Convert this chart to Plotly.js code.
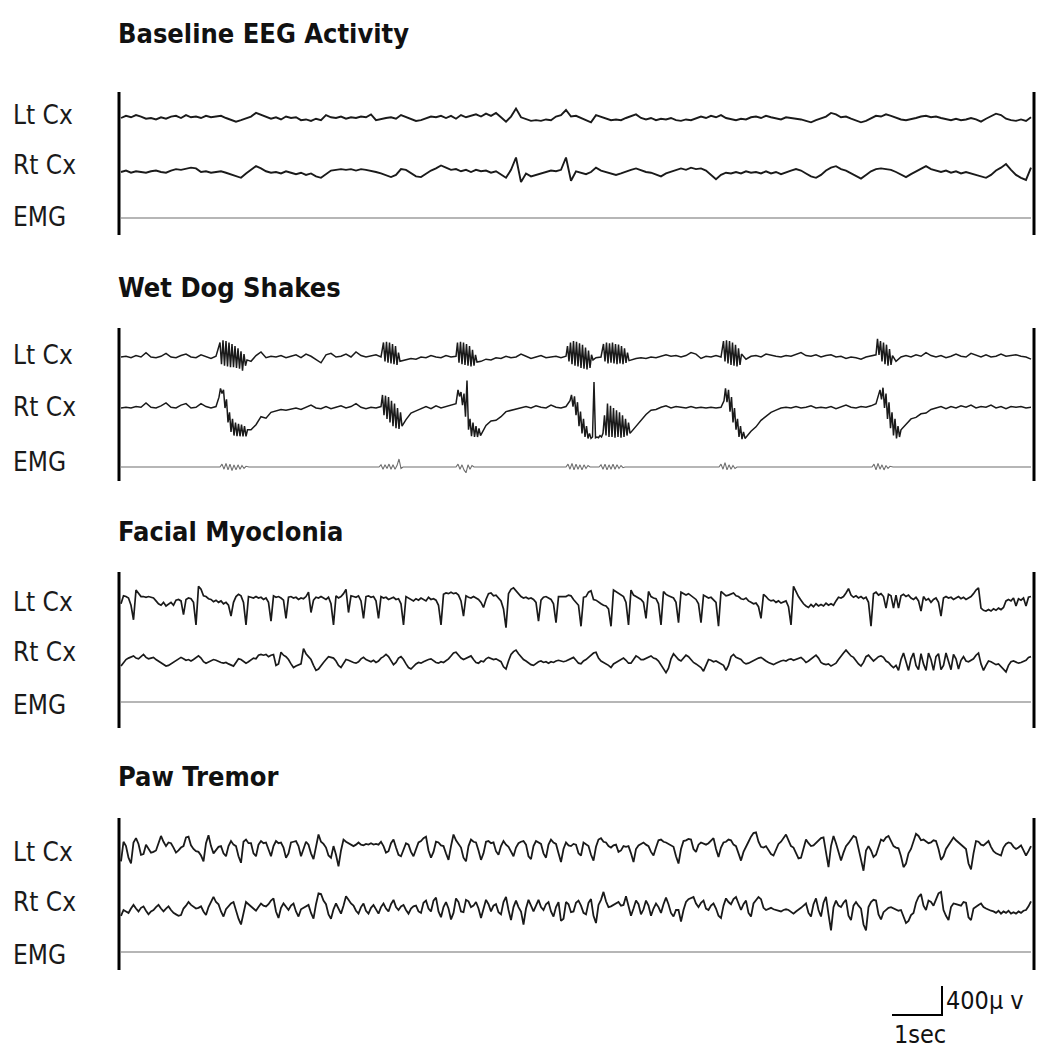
<!DOCTYPE html>
<html>
<head>
<meta charset="utf-8">
<script src="https://cdn.plot.ly/plotly-3.0.1.min.js"></script>
<style>html,body{margin:0;padding:0;background:#fff;}#chart{width:1037px;height:1050px;}</style>
</head>
<body>
<div id="chart"></div>
<script>
// ---------------- DATA (µV, positive = up; time in seconds) ----------------
const panelTitles = ['Baseline EEG Activity', 'Wet Dog Shakes', 'Facial Myoclonia', 'Paw Tremor'];
const channelLabels = ['Lt Cx', 'Rt Cx', 'EMG'];
const scaleBarSec = 1;
const scaleBarUV = 400;
const scaleTexts = ['400μ v', '1sec'];
const recordDur = 18.2;

// Baseline EEG: sampled every 0.1 s
const baseStep = 0.1;
const baseLt = [0,30,10,40,20,-10,0,-20,10,-10,20,30,0,40,10,20,0,30,10,20,30,0,-20,-50,-30,0,20,70,40,10,
-10,10,-20,20,0,10,-30,-20,-40,-10,-30,40,10,0,20,-10,10,0,20,10,50,-30,-10,0,10,-10,40,10,-20,-40,
-30,0,20,10,30,0,30,-10,40,10,30,50,20,60,30,70,10,-50,20,130,10,-20,-40,-30,-40,-20,-30,20,40,110,
20,30,0,-40,-60,40,20,0,-30,-20,-30,0,30,50,0,-20,0,-30,-10,-20,0,-30,-40,-20,-30,0,20,0,30,10,
40,0,-20,-30,-10,-20,10,20,0,30,10,0,-20,10,0,0,-20,-40,-60,-30,-10,20,70,50,10,20,-10,-30,-60,-40,
0,30,20,50,30,0,-20,-30,-20,0,20,30,10,20,0,-20,-30,-10,-30,-20,0,-20,-50,-10,30,60,40,-10,-30,-40,
-20,-40,10];
const baseRt = [0,20,-10,10,0,-10,10,20,0,-10,20,40,30,40,60,50,0,10,-10,0,10,-10,-30,-60,-80,-20,30,80,50,10,
-10,0,-20,10,-10,-30,-10,-40,-20,-60,-80,-30,20,30,40,30,40,20,40,30,20,0,-20,-40,-70,-40,40,30,-10,-60,
-70,-20,20,50,90,60,30,40,10,30,0,30,10,20,-10,10,-30,-80,30,200,-140,-20,-60,-40,-30,0,20,10,30,200,
-120,10,-10,-30,0,60,20,0,-30,-40,-20,10,30,50,20,0,-10,-40,-60,-20,0,30,50,30,60,40,50,20,-40,-100,
-40,-10,-20,0,-20,10,-10,0,-20,10,-20,0,-30,0,20,40,20,-20,-60,-80,-40,20,60,80,40,20,-20,-60,-90,-40,
10,40,50,40,30,0,-40,-70,-30,10,50,80,40,20,0,20,-10,10,-20,0,-20,-30,-60,-80,-40,20,60,110,30,-40,
-80,-110,60];
const baseEmg = [[0,0],[18.2,0]];

// Wet Dog Shakes: [time s, µV] vertices (dense inside the bursts)
const wdsLt = [[0,0],[0.1,10],[0.2,-10],[0.3,20],[0.4,0],[0.5,60],[0.6,0],[0.7,-10],[0.8,10],[0.9,50],[1.0,0],[1.1,-10],[1.2,20],[1.3,40],[1.4,0],[1.5,-10],[1.6,30],[1.7,0],[1.8,-20],[1.9,10],
[1.98,200],[2.01,-100],[2.04,230],[2.07,-120],[2.10,220],[2.13,-130],[2.16,200],[2.19,-140],[2.22,180],[2.25,-140],[2.28,150],[2.31,-150],[2.34,120],[2.37,-160],[2.40,80],[2.43,-190],[2.46,40],[2.49,-120],[2.52,-40],
[2.6,-60],[2.7,20],[2.8,70],[2.9,-10],[3.0,10],[3.1,0],[3.2,20],[3.3,-10],[3.4,10],[3.5,30],[3.6,-10],[3.7,40],[3.8,10],[3.9,-30],[4.0,-80],[4.1,30],[4.2,50],[4.3,0],[4.4,10],[4.5,40],[4.6,0],[4.7,70],[4.8,20],[4.9,0],[5.0,10],[5.1,30],[5.2,0],
[5.25,200],[5.28,-60],[5.31,210],[5.34,-80],[5.37,200],[5.40,-90],[5.43,180],[5.46,-100],[5.49,150],[5.52,-110],[5.55,60],[5.58,-60],
[5.7,-40],[5.8,-20],[5.9,-30],[6.0,0],[6.1,-10],[6.2,20],[6.3,0],[6.4,-10],[6.5,20],[6.6,0],[6.7,10],
[6.73,200],[6.76,-80],[6.79,210],[6.82,-100],[6.85,200],[6.88,-110],[6.91,180],[6.94,-120],[6.97,150],[7.00,-130],[7.03,100],[7.06,-120],[7.09,30],[7.12,-70],
[7.2,-60],[7.3,-30],[7.4,-40],[7.5,-10],[7.6,-20],[7.7,10],[7.8,-10],[7.9,0],[8.0,40],[8.1,10],[8.2,-20],[8.3,0],[8.4,20],[8.5,-10],[8.6,0],[8.7,10],[8.8,-10],[8.9,10],
[8.93,150],[8.96,-60],[8.99,200],[9.02,-100],[9.05,220],[9.08,-120],[9.11,210],[9.14,-130],[9.17,190],[9.20,-150],[9.23,170],[9.26,-160],[9.29,130],[9.32,-170],[9.35,90],[9.38,-150],[9.41,30],[9.44,-40],
[9.5,-10],[9.6,0],
[9.65,180],[9.68,-60],[9.71,200],[9.74,-90],[9.77,190],[9.80,-80],[9.83,200],[9.86,-90],[9.89,180],[9.92,-100],[9.95,170],[9.98,-90],[10.01,150],[10.04,-100],[10.07,120],[10.10,-80],[10.13,60],[10.16,-50],
[10.3,-20],[10.4,-10],[10.5,-20],[10.6,0],[10.7,-10],[10.8,10],[10.9,30],[11.0,10],[11.1,20],[11.2,0],[11.3,20],[11.4,60],[11.5,40],[11.6,-20],[11.7,10],[11.8,0],[11.9,20],[12.0,0],
[12.05,220],[12.08,-60],[12.11,230],[12.14,-90],[12.17,220],[12.20,-110],[12.23,200],[12.26,-120],[12.29,170],[12.32,-130],[12.35,120],[12.38,-110],[12.41,40],
[12.5,-30],[12.6,10],[12.7,20],[12.8,0],[12.9,40],[13.0,20],[13.1,10],[13.2,0],[13.3,20],[13.4,10],[13.5,30],[13.6,60],[13.7,20],[13.8,10],[13.9,30],[14.0,0],[14.1,20],[14.2,30],[14.3,0],[14.4,10],[14.5,-20],[14.6,0],[14.7,-10],[14.8,-30],[14.9,0],[15.0,20],[15.1,30],
[15.13,250],[15.16,30],[15.19,220],[15.22,-60],[15.25,200],[15.28,-100],[15.31,170],[15.34,-120],[15.37,110],[15.40,-110],[15.43,20],
[15.5,-60],[15.6,0],[15.7,20],[15.8,0],[15.9,30],[16.0,10],[16.1,60],[16.2,20],[16.3,0],[16.4,20],[16.5,-10],[16.6,10],[16.7,40],[16.8,10],[16.9,0],[17.0,50],[17.1,20],[17.2,0],[17.3,30],[17.4,0],[17.5,10],[17.6,40],[17.7,10],[17.8,20],[17.9,30],[18.0,10],[18.1,0],[18.2,-30]];

const wdsRt = [[0,0],[0.1,10],[0.2,0],[0.3,20],[0.4,10],[0.5,70],[0.6,10],[0.7,0],[0.8,30],[0.9,70],[1.0,10],[1.1,0],[1.2,40],[1.3,60],[1.4,0],[1.5,10],[1.6,60],[1.7,20],[1.8,0],[1.9,20],
[1.96,150],[1.99,270],[2.02,200],[2.05,250],[2.08,0],[2.11,120],[2.14,-200],[2.17,-60],[2.20,-330],[2.23,-150],[2.26,-380],[2.29,-200],[2.32,-390],[2.35,-220],[2.38,-390],[2.41,-230],[2.44,-390],[2.47,-250],[2.50,-390],[2.53,-300],
[2.6,-300],[2.7,-230],[2.8,-120],[2.9,-140],[3.0,-60],[3.1,-40],[3.2,-20],[3.3,-30],
[3.4,-10],[3.5,0],[3.6,-20],[3.7,10],[3.8,40],[3.9,0],[4.0,-10],[4.1,20],[4.2,-10],[4.3,10],[4.4,30],[4.5,0],[4.6,20],[4.7,60],[4.8,10],[4.9,-10],[5.0,10],[5.1,0],[5.2,20],
[5.23,180],[5.26,-100],[5.29,170],[5.32,-150],[5.35,150],[5.38,-200],[5.41,100],[5.44,-250],[5.47,60],[5.50,-280],[5.53,0],[5.56,-290],[5.59,-60],[5.62,-250],
[5.7,-160],[5.8,-70],[5.9,-40],[6.0,-10],[6.1,20],[6.2,-10],[6.3,30],[6.4,0],[6.5,20],[6.6,40],[6.7,60],
[6.74,250],[6.77,160],[6.80,220],[6.83,40],[6.86,200],[6.89,-120],[6.92,380],[6.95,-300],[6.98,-150],[7.01,-390],[7.04,-200],[7.07,-400],[7.10,-250],[7.13,-400],[7.16,-280],[7.19,-380],
[7.3,-240],[7.4,-180],[7.5,-170],[7.6,-120],[7.7,-50],[7.8,-30],[7.9,-10],[8.0,0],[8.1,20],[8.2,0],[8.3,30],[8.4,10],[8.5,0],[8.6,40],[8.7,10],[8.8,0],[8.9,20],
[8.98,100],[9.01,180],[9.04,20],[9.07,160],[9.10,-100],[9.13,80],[9.16,-250],[9.19,-50],[9.22,-350],[9.25,-150],[9.28,-400],[9.31,-250],[9.34,-420],[9.37,-350],[9.40,-420],[9.43,-400],[9.46,360],[9.49,-410],[9.52,-400],[9.55,-410],[9.58,-380],[9.61,-400],[9.64,-350],[9.67,-100],[9.70,-380],[9.73,60],[9.76,-400],[9.79,30],[9.82,-400],[9.85,0],[9.88,-410],[9.91,-30],[9.94,-400],[9.97,-60],[10.00,-410],[10.03,-100],[10.06,-400],[10.09,-150],[10.12,-380],[10.15,-200],[10.18,-350],
[10.3,-250],[10.4,-170],[10.5,-90],[10.6,-30],[10.7,-20],[10.8,10],[10.9,30],[11.0,0],[11.1,20],[11.2,10],[11.3,0],[11.4,20],[11.5,0],[11.6,10],[11.7,0],[11.8,10],[11.9,0],[12.0,10],
[12.06,100],[12.09,270],[12.12,80],[12.15,250],[12.18,-50],[12.21,150],[12.24,-200],[12.27,0],[12.30,-300],[12.33,-150],[12.36,-400],[12.39,-250],[12.42,-430],[12.45,-330],[12.48,-420],
[12.6,-320],[12.7,-260],[12.8,-170],[12.9,-110],[13.0,-60],[13.1,-30],[13.2,0],[13.3,10],[13.4,0],[13.5,20],[13.6,0],[13.7,10],[13.8,30],[13.9,0],[14.0,10],[14.1,0],[14.2,20],[14.3,-10],[14.4,10],[14.5,40],[14.6,10],[14.7,0],[14.8,20],[14.9,10],[15.0,30],[15.1,60],
[15.18,250],[15.21,120],[15.24,280],[15.27,0],[15.30,200],[15.33,-150],[15.36,80],[15.39,-280],[15.42,-60],[15.45,-380],[15.48,-150],[15.51,-420],[15.54,-250],[15.57,-400],[15.60,-300],
[15.7,-230],[15.8,-150],[15.9,-130],[16.0,-80],[16.1,-70],[16.2,-20],[16.3,0],[16.4,20],[16.5,-10],[16.6,20],[16.7,0],[16.8,30],[16.9,10],[17.0,40],[17.1,0],[17.2,20],[17.3,10],[17.4,40],[17.5,0],[17.6,20],[17.7,-10],[17.8,20],[17.9,10],[18.0,20],[18.1,0],[18.2,10]];

const wdsEmg = [[0,0],[1.0,0],[1.98,0],[2.02,40],[2.06,-30],[2.10,50],[2.14,-40],[2.18,40],[2.22,-50],[2.26,30],[2.30,-40],[2.34,30],[2.38,-30],[2.42,20],[2.46,-20],[2.50,10],[2.56,0],
[4.0,0],[5.16,0],[5.20,30],[5.24,-30],[5.28,30],[5.32,-20],[5.36,40],[5.40,-30],[5.44,30],[5.48,-30],[5.52,20],[5.56,110],[5.60,-20],[5.64,0],
[6.70,0],[6.74,40],[6.78,-30],[6.82,30],[6.86,-40],[6.90,-80],[6.94,30],[6.98,-30],[7.02,20],[7.06,0],
[8.0,0],[8.90,0],[8.94,40],[8.98,-30],[9.02,50],[9.06,-40],[9.10,40],[9.14,-30],[9.18,30],[9.22,-40],[9.26,30],[9.30,-20],[9.34,20],[9.38,0],
[9.56,0],[9.60,30],[9.64,-30],[9.68,40],[9.72,-40],[9.76,30],[9.80,-30],[9.84,40],[9.88,-30],[9.92,30],[9.96,-20],[10.00,20],[10.04,-10],[10.08,0],
[11.0,0],[11.96,0],[12.00,40],[12.04,-30],[12.08,60],[12.12,-40],[12.16,30],[12.20,-30],[12.24,20],[12.28,-20],[12.32,0],
[14.0,0],[15.02,0],[15.06,40],[15.10,-40],[15.14,50],[15.18,-30],[15.22,30],[15.26,-40],[15.30,20],[15.34,-20],[15.38,10],[15.44,0],
[17.0,0],[18.2,0]];

// Facial Myoclonia and Paw Tremor: sampled every 0.05 s
const fastStep = 0.05;
const fmLt = [-80,30,20,0,-100,-300,110,60,20,20,10,20,10,0,-40,-80,-100,-60,-110,-90,
-60,-100,-30,-20,-40,-230,-20,0,-10,-60,-370,160,120,30,20,-10,-20,-50,-30,-60,
-40,-80,-60,-100,-250,-60,20,50,30,-60,-370,20,10,0,20,0,10,-20,0,-60,
-320,30,10,20,0,-30,-280,10,20,0,10,-20,0,-10,20,80,-200,-30,10,0,
20,0,-20,10,-80,-370,30,0,20,60,120,-200,30,20,10,30,-40,-280,20,30,
10,20,-40,-280,20,0,10,-20,0,10,-20,-10,-80,-370,20,0,-20,-40,-10,-30,
0,-20,-40,10,-20,-10,-30,-100,-370,50,70,60,80,60,70,40,-40,-250,30,10,
0,20,0,-20,-60,-130,-20,60,70,30,40,0,-40,-150,-410,60,120,140,100,60,
20,0,10,-10,0,-20,-60,-320,-30,10,20,0,-20,-80,-340,20,
20,10,20,40,30,-20,-60,-100,-390,10,20,80,100,-20,-30,-60,-80,-100,-110,-150,
-390,110,90,70,50,20,-60,-370,110,40,20,0,-20,-60,-280,90,20,0,-10,-80,
-370,90,50,30,20,0,-60,-340,80,60,40,60,30,0,-20,-80,-340,40,20,0,
10,-20,-60,-390,90,60,30,40,60,70,30,20,-10,-20,0,-40,-60,-80,-70,-120,
-280,50,20,-20,-40,-30,-60,-40,-70,-60,-40,-120,-370,160,80,20,-30,-80,-110,-130,
-90,-120,-80,-110,-90,-110,-70,-100,-80,-100,-40,10,0,20,70,130,40,10,30,0,
20,-10,10,-60,-390,60,80,40,60,20,-140,50,30,-140,40,-140,30,50,20,40,
0,-20,10,-40,-180,20,-30,-10,-60,-20,0,-60,-250,0,20,0,10,-20,0,20,
-10,10,-20,0,20,60,110,140,-140,-170,-180,-160,-180,-150,-170,-140,-160,-130,-40,-20,
-40,0,-110,-10,-30,0,-110,10,20];
const fmRt = [-70,-20,20,40,50,70,40,30,60,90,50,30,40,50,20,0,-30,-50,-70,-60,
-40,-20,0,30,50,30,10,20,0,20,50,70,40,-10,-30,-10,10,20,10,-10,
-20,-30,-20,-40,-60,-70,-20,30,20,-10,-30,-10,20,40,30,80,90,80,90,60,
80,90,-60,-40,120,80,60,20,-40,-90,-70,-50,-40,170,100,60,20,-60,-130,-110,
-60,-20,20,60,50,40,0,-60,-90,-30,20,10,-10,-20,-30,-10,30,50,20,0,
-10,10,-20,0,40,60,90,60,0,-50,-20,40,60,20,-40,-90,-110,-70,-40,-20,
-30,-10,10,20,30,0,-20,-30,-10,-20,0,30,70,110,120,80,40,20,40,60,
70,20,-20,-30,0,-10,30,50,40,20,30,10,-10,-80,-110,0,90,130,150,100,
60,20,0,-30,-50,-60,-30,-10,0,-20,-10,-30,-10,-20,0,10,
0,-10,0,20,40,50,10,-30,-40,0,20,50,80,110,120,40,0,-20,-30,-60,
-90,-40,-20,0,20,40,10,-30,-30,20,70,50,20,20,40,60,70,40,30,0,
-60,-110,-160,-100,30,100,60,20,0,40,80,60,20,-20,-40,-60,-90,-140,-60,20,
10,-10,0,-20,-40,-60,-130,-60,60,90,50,30,20,-20,-40,-30,-10,0,20,40,
50,20,0,-20,-30,-50,-30,-10,0,10,0,20,30,10,20,40,50,20,-20,0,
30,60,80,40,-20,-40,-50,-40,-70,-50,-30,20,70,110,150,110,70,50,0,-40,
-70,-20,60,80,40,0,30,60,70,50,0,-20,-60,-90,-60,-130,20,110,-10,-130,
30,110,-60,-120,100,-40,-130,110,20,-130,60,100,-120,-60,110,-20,-120,90,30,-110,
10,60,0,-10,10,30,80,110,-40,-130,-60,0,-10,-30,-50,-40,-80,-120,-150,-60,
-10,0,-20,-30,-20,-10,10,50,60];
const fmEmg = [[0,0],[18.2,0]];

const ptLt = [-170,100,40,-120,-200,90,150,70,-80,-70,60,0,-50,-40,-20,80,180,100,40,90,
80,20,-50,-20,20,40,160,170,50,0,-30,-40,-90,-170,80,190,40,-60,-20,30,
40,-60,-100,40,110,60,40,-100,-190,100,130,80,80,-60,-100,60,110,80,90,0,
-100,40,110,80,90,20,-120,-60,90,100,110,40,-100,0,100,60,-60,-140,60,200,
100,70,20,-90,-120,40,-80,-240,-20,130,100,80,50,40,60,90,60,50,70,60,
80,60,70,60,100,40,-50,-30,80,130,20,-80,-100,0,80,60,-40,-100,0,90,
110,150,170,-20,-120,-40,100,90,50,40,-60,-150,40,200,120,60,20,-120,-170,40,
130,100,90,-20,-150,-60,100,110,80,90,-30,-80,40,110,60,30,-40,-100,20,80,
100,110,60,-100,-140,40,110,90,70,-60,-120,60,130,90,70,-60,
-180,0,90,50,40,70,60,-60,-90,90,60,40,-80,-160,30,130,150,100,90,40,
20,50,60,-40,-20,40,30,40,-60,-180,0,50,70,90,60,40,-40,-90,20,120,
130,100,90,70,50,30,-100,-200,0,110,120,140,130,0,-40,60,90,70,60,80,
120,150,0,-110,20,90,100,130,120,60,40,-60,-160,-40,40,100,170,220,230,100,
30,20,40,-20,-70,-90,0,70,100,160,200,120,40,20,-60,-130,-120,20,130,80,
40,50,80,120,150,160,-80,-250,40,180,80,-60,-160,-50,40,80,140,180,160,20,
-150,-300,-20,40,-20,-110,-80,40,130,110,160,180,100,40,20,10,-100,-250,-200,-60,
0,120,210,180,120,130,100,80,90,120,110,0,-150,-100,0,60,110,160,120,90,
60,30,0,-200,-280,-60,110,100,60,50,80,110,30,-30,-60,-80,-90,20,70,90,
80,30,0,20,50,-20,-90,-30,40];
const ptRt = [-80,0,-20,-40,20,70,20,-20,30,50,-10,-60,-20,0,40,70,20,-20,20,50,
0,-40,-60,-80,-70,20,60,110,70,40,20,30,50,-20,-70,40,120,180,110,80,
-20,-90,10,50,90,110,-10,-120,-200,-40,110,80,50,20,-10,40,90,60,50,80,
130,160,-20,-110,30,90,40,0,60,90,-20,-90,10,30,60,70,-40,-120,80,230,
220,130,80,-60,-120,10,90,20,-50,60,190,140,90,60,-10,-50,40,90,-10,-50,
30,70,10,-50,40,90,20,-20,80,140,40,0,50,70,0,-50,20,50,60,-20,
-40,100,130,20,-20,130,170,-20,-100,40,110,20,-130,-40,160,110,-20,-30,140,120,
40,60,110,20,-110,0,140,80,-20,60,80,-30,-60,110,180,0,-140,40,130,40,
-20,-200,20,140,60,-20,60,140,40,0,80,110,-20,-90,40,110,
-150,-120,110,80,-30,-20,100,130,60,-40,-60,100,150,-80,-180,70,140,250,120,40,
50,70,80,110,60,70,190,60,-80,20,130,80,-60,10,130,60,-80,20,90,40,
-40,80,170,80,-40,-90,0,0,-160,0,110,150,170,180,90,40,100,130,20,0,
60,90,20,-80,-110,60,160,110,80,150,180,90,0,80,130,-40,-90,90,140,180,
150,30,0,20,30,10,0,-10,-20,0,10,0,-30,-50,-20,0,30,60,90,-40,
-90,80,160,0,-90,100,180,-60,-280,40,130,60,40,100,140,-80,-140,60,110,60,
20,-200,-280,40,110,140,130,-60,-130,-30,0,30,40,20,0,-10,0,-80,-180,-150,
-70,-40,100,180,220,60,0,130,110,60,140,230,250,0,-80,-140,40,90,80,70,
60,110,100,-100,-140,20,50,70,90,40,20,0,-10,-20,-40,-10,-50,-20,-40,-10,
-50,-30,-50,-20,-40,-10,0,50,120];
const ptEmg = [[0,0],[18.2,0]];

// ---------------- LAYOUT GEOMETRY (pixels of the 1037x1050 page) ----------------
const W = 1037, H = 1050;
const traceLeftPx = 121, traceRightPx = 1031;
const secPerPx = recordDur / (traceRightPx - traceLeftPx);
const uvPerPx = scaleBarUV / 29;
const xRange = [-traceLeftPx * secPerPx, (W - traceLeftPx) * secPerPx];
const yRange = [-H * uvPerPx, 0];
const pxToY = p => -p * uvPerPx;
const pxToT = p => (p - traceLeftPx) * secPerPx;

const uniform = (vals, step) => ({t: vals.map((_, i) => i * step), v: vals});
const pairs = arr => ({t: arr.map(p => p[0]), v: arr.map(p => p[1])});

const panels = [
  {title: panelTitles[0], titleY: 33, bar: [92, 235], eegW: 1.9,
   ch: [{d: uniform(baseLt, baseStep), y: 118, ly: 115},
        {d: uniform(baseRt, baseStep), y: 172, ly: 165},
        {d: pairs(baseEmg), y: 218, ly: 217, emg: true}]},
  {title: panelTitles[1], titleY: 287, bar: [328, 481], eegW: 1.5,
   ch: [{d: pairs(wdsLt), y: 357, ly: 355},
        {d: pairs(wdsRt), y: 408, ly: 407},
        {d: pairs(wdsEmg), y: 467, ly: 462, emg: true}]},
  {title: panelTitles[2], titleY: 531, bar: [572, 728], eegW: 1.7,
   ch: [{d: uniform(fmLt, fastStep), y: 598, ly: 602},
        {d: uniform(fmRt, fastStep), y: 661, ly: 652},
        {d: pairs(fmEmg), y: 702, ly: 705, emg: true}]},
  {title: panelTitles[3], titleY: 776, bar: [818, 970], eegW: 1.8,
   ch: [{d: uniform(ptLt, fastStep), y: 849, ly: 852},
        {d: uniform(ptRt, fastStep), y: 910, ly: 902},
        {d: pairs(ptEmg), y: 952, ly: 955, emg: true}]}
];

const FONT = '"DejaVu Sans Condensed", "Liberation Sans Narrow", "DejaVu Sans", sans-serif';
const traces = [], shapes = [], annotations = [];

panels.forEach(p => {
  annotations.push({xref: 'paper', yref: 'paper', x: 116 / W, y: 1 - p.titleY / H,
    xanchor: 'left', yanchor: 'middle', showarrow: false,
    text: '<b>' + p.title + '</b>', font: {family: FONT, size: 27, color: '#111'}});
  [traceLeftPx - 2, traceRightPx + 3].forEach(xp => {
    shapes.push({type: 'line', xref: 'paper', yref: 'paper', x0: xp / W, x1: xp / W,
      y0: 1 - p.bar[0] / H, y1: 1 - p.bar[1] / H, line: {color: '#000', width: 3}});
  });
  p.ch.forEach((c, i) => {
    const off = pxToY(c.y);
    traces.push({type: 'scatter', mode: 'lines', x: c.d.t, y: c.d.v.map(v => off + v),
      line: c.emg ? {color: '#6e6e6e', width: 1.1} : {color: '#1a1a1a', width: p.eegW},
      hoverinfo: 'skip'});
    annotations.push({xref: 'paper', yref: 'paper', x: 11 / W, y: 1 - c.ly / H,
      xanchor: 'left', yanchor: 'middle', showarrow: false,
      text: channelLabels[i], font: {family: FONT, size: 26, color: '#1a1a1a'}});
  });
});

// scale bar (1 s horizontal, 400 µV vertical)
const sbT0 = pxToT(892), sbY0 = pxToY(1015);
traces.push({type: 'scatter', mode: 'lines',
  x: [sbT0, sbT0 + scaleBarSec, sbT0 + scaleBarSec],
  y: [sbY0, sbY0, sbY0 + scaleBarUV],
  line: {color: '#000', width: 2}, hoverinfo: 'skip'});
annotations.push({xref: 'paper', yref: 'paper', x: 944 / W, y: 1 - 1000 / H,
  xanchor: 'left', yanchor: 'middle', showarrow: false,
  text: scaleTexts[0], font: {family: FONT, size: 25, color: '#111'}});
annotations.push({xref: 'paper', yref: 'paper', x: 892 / W, y: 1 - 1034 / H,
  xanchor: 'left', yanchor: 'middle', showarrow: false,
  text: scaleTexts[1], font: {family: FONT, size: 25, color: '#111'}});

const layout = {
  width: W, height: H, margin: {l: 0, r: 0, t: 0, b: 0},
  paper_bgcolor: '#fff', plot_bgcolor: '#fff', showlegend: false,
  xaxis: {range: xRange, visible: false, fixedrange: true},
  yaxis: {range: yRange, visible: false, fixedrange: true},
  shapes: shapes, annotations: annotations, hovermode: false
};
Plotly.newPlot('chart', traces, layout, {staticPlot: true, displayModeBar: false});
</script>
</body>
</html>
